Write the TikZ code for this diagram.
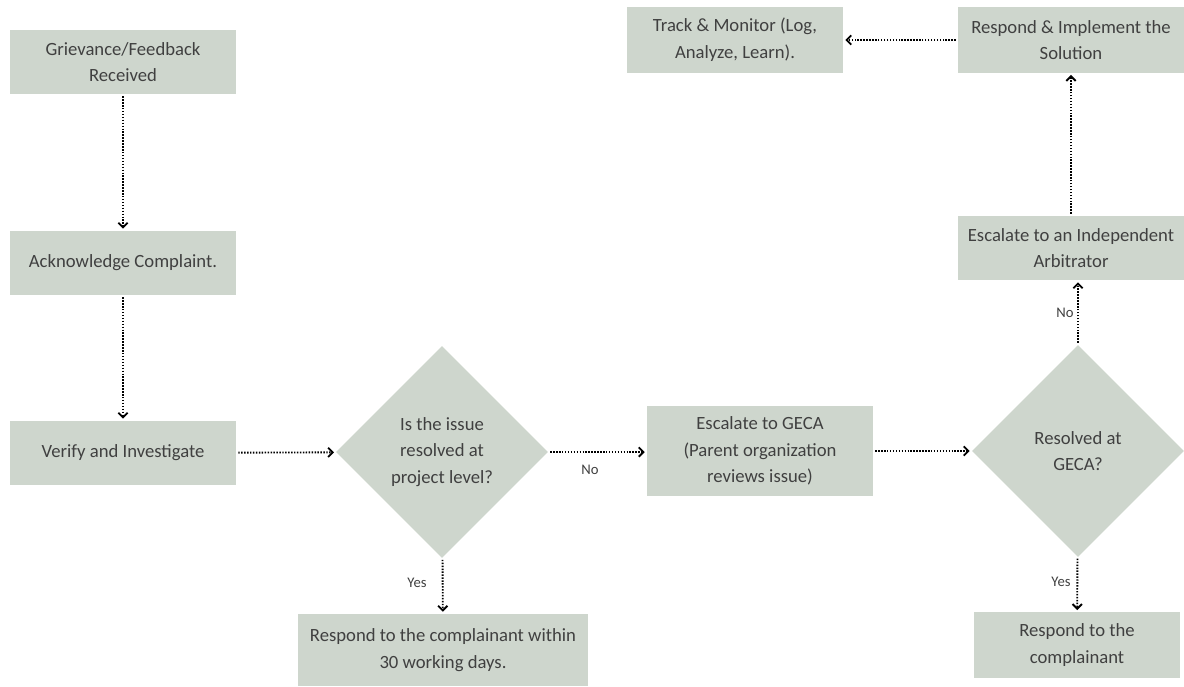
\documentclass[tikz,border=0pt]{standalone}
\usepackage{fontspec}
\setmainfont{Carlito}
\usetikzlibrary{shapes.geometric,arrows.meta}
\definecolor{sage}{RGB}{206,214,205}
\definecolor{inkgray}{RGB}{64,64,64}

\begin{document}
\begin{tikzpicture}[x=0.75pt,y=-0.75pt]
	\tikzset{every node/.style={align=center,text=inkgray,font=\fontsize{14}{20}\selectfont}}
	\tikzset{stepbox/.style={fill=sage,minimum width=169.5pt,minimum height=48pt,inner sep=2pt}}
	\tikzset{query/.style={diamond,fill=sage,minimum width=159pt,minimum height=159pt,inner sep=0pt}}
	\tikzset{flow/.style={dash pattern=on 1.1pt off 1.1pt,line width=1.4pt,-{Straight Barb[length=3.5pt,width=7pt]},shorten >=1.5pt,shorten <=1.5pt}}
	\tikzset{answer/.style={font=\fontsize{11}{13}\selectfont}}
	\useasboundingbox (0,0) rectangle (1184,686);
	\node[stepbox] (received) at (123,62) {Grievance/Feedback\\Received};
	\node[stepbox] (acknowledge) at (123,263) {Acknowledge Complaint.};
	\node[stepbox] (verify) at (123,453) {Verify and Investigate};
	\node[query] (projectlevel) at (442,452) {Is the issue\\resolved at\\project level?};
	\node[stepbox,minimum width=217.5pt,minimum height=54pt] (thirtydays) at (443,650) {Respond to the complainant within\\30 working days.};
	\node[stepbox,minimum height=67.5pt] (geca) at (760,451) {Escalate to GECA\\(Parent organization\\reviews issue)};
	\node[query] (atgeca) at (1078,451) {Resolved at\\GECA?};
	\node[stepbox,minimum width=155pt,minimum height=49pt] (complainant) at (1077,645) {Respond to the\\complainant};
	\node[stepbox] (arbitrator) at (1071,248) {Escalate to an Independent\\Arbitrator};
	\node[stepbox,minimum height=49pt] (implement) at (1071,40) {Respond \& Implement the\\Solution};
	\node[stepbox,minimum width=162pt,minimum height=49pt] (monitor) at (735,40) {Track \& Monitor (Log,\\Analyze, Learn).};
	\draw[flow] (received) -- (acknowledge);
	\draw[flow] (acknowledge) -- (verify);
	\draw[flow] (verify) -- (projectlevel);
	\draw[flow] (projectlevel.east) -- (projectlevel.east -| geca.west);
	\draw[flow] (projectlevel) -- (thirtydays);
	\draw[flow] (geca) -- (atgeca);
	\draw[flow] (atgeca) -- (complainant);
	\draw[flow] (atgeca.north) -- (atgeca.north |- arbitrator.south);
	\draw[flow] (arbitrator) -- (implement);
	\draw[flow] (implement) -- (monitor);
	\node[answer] (nolocal) at (590,470) {No};
	\node[answer] (yeslocal) at (417,583) {Yes};
	\node[answer] (nogeca) at (1065,313) {No};
	\node[answer] (yesgeca) at (1061,582) {Yes};
\end{tikzpicture}
\end{document}
